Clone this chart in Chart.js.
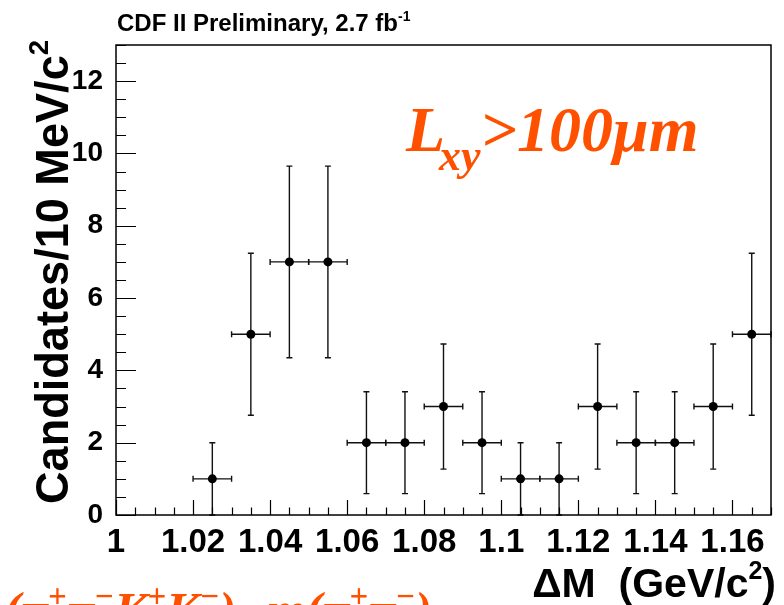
<!DOCTYPE html>
<html lang="en">
<head>
<meta charset="UTF-8">
<title>CDF dM Lxy>100um</title>
<script src="https://cdn.jsdelivr.net/npm/chart.js@4.4.1/dist/chart.umd.min.js"></script>
<style>
  html, body { margin: 0; padding: 0; background: #fff; }
  canvas { display: block; }
</style>
</head>
<body>
<canvas id="dmChart" width="784" height="605"></canvas>
<script>
// bin centres (GeV/c^2), 10 MeV bins
const binCenters = [1.025, 1.035, 1.045, 1.055, 1.065, 1.075, 1.085, 1.095, 1.105, 1.115, 1.125, 1.135, 1.145, 1.155, 1.165];
const counts     = [1, 5, 7, 7, 2, 2, 3, 2, 1, 1, 3, 2, 2, 3, 5];
const countErrs  = [1, 2.24, 2.65, 2.65, 1.41, 1.41, 1.73, 1.41, 1, 1, 1.73, 1.41, 1.41, 1.73, 2.24];
const binHalfWidth = 0.005;
const yTicks = [0, 2, 4, 6, 8, 10, 12];
const xTicks = [1, 1.02, 1.04, 1.06, 1.08, 1.1, 1.12, 1.14, 1.16];

const ORANGE = 'rgb(255,80,0)';
const SANS = '"Liberation Sans", Arial, Helvetica, sans-serif';
const SERIF = '"Liberation Serif", "Times New Roman", serif';

// draws a row of [text, isSuperscript] pieces, right edge at xr
function drawPieces(ctx, pieces, xr, base, mainFont, supFont, rise) {
    let total = 0;
    const widths = pieces.map(([t, sup]) => {
        ctx.font = sup ? supFont : mainFont;
        const w = ctx.measureText(t).width;
        total += w;
        return w;
    });
    let xp = xr - total;
    ctx.textAlign = 'left';
    pieces.forEach(([t, sup], i) => {
        ctx.font = sup ? supFont : mainFont;
        ctx.fillText(t, xp, sup ? base - rise : base);
        xp += widths[i];
    });
}

// error bars under the markers
const errorBars = {
    id: 'errorBars',
    beforeDatasetsDraw(chart) {
        const { ctx, scales: { x, y } } = chart;
        ctx.save();
        ctx.strokeStyle = '#111';
        ctx.lineWidth = 1.4;
        const cap = 3;
        binCenters.forEach((c, i) => {
            const px = x.getPixelForValue(c);
            const py = y.getPixelForValue(counts[i]);
            const xl = x.getPixelForValue(c - binHalfWidth);
            const xr = x.getPixelForValue(c + binHalfWidth);
            const yt = y.getPixelForValue(counts[i] + countErrs[i]);
            const yb = y.getPixelForValue(Math.max(0, counts[i] - countErrs[i]));
            ctx.beginPath();
            ctx.moveTo(xl, py); ctx.lineTo(xr, py);
            ctx.moveTo(xl, py - cap); ctx.lineTo(xl, py + cap);
            ctx.moveTo(xr, py - cap); ctx.lineTo(xr, py + cap);
            ctx.moveTo(px, yt); ctx.lineTo(px, yb);
            ctx.moveTo(px - cap, yt); ctx.lineTo(px + cap, yt);
            ctx.moveTo(px - cap, yb); ctx.lineTo(px + cap, yb);
            ctx.stroke();
        });
        ctx.restore();
    }
};

// ROOT style frame, inward ticks and the text labels
const rootFrame = {
    id: 'rootFrame',
    afterDraw(chart) {
        const { ctx, chartArea: a, scales: { x, y } } = chart;
        ctx.save();
        ctx.strokeStyle = '#000';
        ctx.lineWidth = 1.5;
        ctx.strokeRect(a.left, a.top, a.right - a.left, a.bottom - a.top);

        ctx.lineWidth = 1.2;
        ctx.beginPath();
        // y ticks: major every 2, minor every 0.5
        for (let k = 0; k <= 26; k++) {
            const v = k * 0.5;
            const py = Math.round(y.getPixelForValue(v)) + 0.5;
            const len = (k % 4 === 0) ? 20 : 10;
            ctx.moveTo(a.left, py); ctx.lineTo(a.left + len, py);
        }
        // x ticks: major every 0.02, minor every 0.005
        for (let k = 0; k <= 34; k++) {
            const v = 1 + k * 0.005;
            const px = Math.round(x.getPixelForValue(v)) + 0.5;
            const len = (k % 4 === 0) ? 15 : 7.5;
            ctx.moveTo(px, a.bottom); ctx.lineTo(px, a.bottom - len);
        }
        ctx.stroke();

        // header
        ctx.fillStyle = '#000';
        ctx.textBaseline = 'alphabetic';
        ctx.font = 'bold 24px ' + SANS;
        const hw = ctx.measureText('CDF II Preliminary, 2.7 fb').width;
        ctx.font = 'bold 14px ' + SANS;
        const hs = ctx.measureText('-1').width;
        drawPieces(ctx, [['CDF II Preliminary, 2.7 fb', false], ['-1', true]], 117 + hw + hs, 31,
            'bold 24px ' + SANS, 'bold 14px ' + SANS, 10);

        // y axis title, rotated, ending at the top
        ctx.save();
        ctx.translate(68, 40);
        ctx.rotate(-Math.PI / 2);
        ctx.font = 'bold 46px ' + SANS;
        const yt = 'Candidates/10 MeV/c';
        const w1 = ctx.measureText(yt).width;
        ctx.font = 'bold 28px ' + SANS;
        const w2 = ctx.measureText('2').width;
        const total = w1 + w2;
        ctx.scale(464 / total, 1);
        ctx.textAlign = 'left';
        ctx.font = 'bold 46px ' + SANS;
        ctx.fillText(yt, -total, 0);
        ctx.font = 'bold 28px ' + SANS;
        ctx.fillText('2', -w2, -20);
        ctx.restore();

        // x axis title, right aligned
        drawPieces(ctx, [['\u0394M  (GeV/c', false], ['2', true], [')', false]], 776, 597,
            'bold 41px ' + SANS, 'bold 25px ' + SANS, 18);

        // selection label
        ctx.fillStyle = ORANGE;
        ctx.textAlign = 'left';
        ctx.font = 'italic bold 64px ' + SERIF;
        ctx.fillText('L', 406, 151);
        const lw = ctx.measureText('L').width;
        ctx.font = 'italic bold 44px ' + SERIF;
        ctx.fillText('xy', 406 + lw - 6, 170);
        const xyw = ctx.measureText('xy').width;
        ctx.font = 'italic bold 64px ' + SERIF;
        ctx.fillText('>100\u03BCm', 406 + lw + xyw - 6, 151);

        // formula, cut off by the bottom edge
        drawPieces(ctx, [
            ['m(\u03C0', false], ['+', true], ['\u03C0', false], ['\u2212', true],
            ['K', false], ['+', true], ['K', false], ['\u2212', true],
            [')\u2212m(\u03C0', false], ['+', true], ['\u03C0', false], ['\u2212', true], [')', false]
        ], 432, 627, 'italic bold 50px ' + SERIF, 'italic bold 33px ' + SERIF, 20);
        ctx.restore();
    }
};

const points = binCenters.map((c, i) => ({ x: c, y: counts[i] }));

new Chart(document.getElementById('dmChart'), {
    type: 'scatter',
    data: {
        datasets: [{
            data: points,
            backgroundColor: '#000',
            borderColor: '#000',
            pointRadius: 4.5,
            pointBorderWidth: 0
        }]
    },
    options: {
        responsive: false,
        animation: false,
        devicePixelRatio: 1,
        layout: { padding: { top: 45, right: 13, left: 0, bottom: 0 } },
        plugins: { legend: { display: false }, tooltip: { enabled: false } },
        scales: {
            x: {
                type: 'linear',
                min: 1,
                max: 1.17,
                afterFit: s => { s.height = 90; },
                afterBuildTicks: s => { s.ticks = xTicks.map(v => ({ value: v })); },
                grid: { display: false, drawTicks: false },
                border: { display: false },
                ticks: {
                    color: '#000',
                    padding: 8,
                    maxRotation: 0,
                    autoSkip: false,
                    font: { family: SANS, size: 33, weight: 'bold' },
                    callback: v => String(parseFloat(v.toFixed(2)))
                }
            },
            y: {
                min: 0,
                max: 13,
                afterFit: s => { s.width = 116; },
                afterBuildTicks: s => { s.ticks = yTicks.map(v => ({ value: v })); },
                grid: { display: false, drawTicks: false },
                border: { display: false },
                ticks: {
                    color: '#000',
                    padding: 13,
                    autoSkip: false,
                    font: { family: SANS, size: 28, weight: 'bold' }
                }
            }
        }
    },
    plugins: [errorBars, rootFrame]
});
</script>
</body>
</html>
